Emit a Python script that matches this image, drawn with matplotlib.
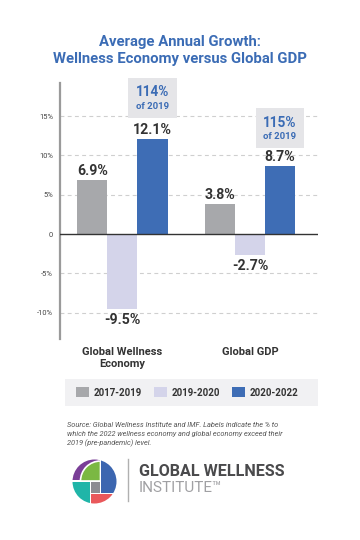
import matplotlib
matplotlib.use("Agg")
import matplotlib.pyplot as plt
import numpy as np
from matplotlib.patches import Rectangle, Circle, Wedge
from matplotlib.offsetbox import TextArea, VPacker, AnnotationBbox

plt.rcParams['font.family'] = ['Roboto', 'DejaVu Sans']

# ---- data ----
categories = ["Global Wellness\nEconomy", "Global GDP"]
periods = ["2017-2019", "2019-2020", "2020-2022"]
growth_2017_2019 = [6.9, 3.8]
growth_2019_2020 = [-9.5, -2.7]
growth_2020_2022 = [12.1, 8.7]
pct_of_2019 = ["114%", "115%"]
yticks = [-10, -5, 0, 5, 10, 15]
ytick_labels = ["-10%", "-5%", "0", "5%", "10%", "15%"]

colors = ["#a7a8ab", "#d4d4ea", "#3e6db5"]
title_color = "#3b6cb5"
text_dark = "#333333"

W, H = 360, 540
fig = plt.figure(figsize=(W / 100, H / 100), dpi=100)
fig.patch.set_facecolor("white")

# decoration axes in pixel coordinates
deco = fig.add_axes([0, 0, 1, 1], zorder=0)
deco.set_xlim(0, W)
deco.set_ylim(H, 0)
deco.axis("off")

# main chart axes
ax = fig.add_axes([60 / W, 1 - 339 / H, 258 / W, 256 / H], zorder=1)
ax.patch.set_alpha(0)

x = np.arange(len(categories))
bw = 30 / 127.5
series = [growth_2017_2019, growth_2019_2020, growth_2020_2022]
containers = []
for i, (vals, c, lab) in enumerate(zip(series, colors, periods)):
    bc = ax.bar(x + (i - 1) * bw, vals, width=bw, color=c, label=lab, zorder=3)
    containers.append(bc)
    for xi, v in zip(x + (i - 1) * bw, vals):
        off = 6.3 if v >= 0 else -7.9
        ax.annotate(f"{v}%", (xi, v), xytext=(0, off), textcoords="offset points",
                    ha="center", va="center", fontsize=10.2, fontweight="bold",
                    color=text_dark, zorder=5)

ax.set_xlim(-0.49, 1.533)
ax.set_ylim(-13.37, 19.23)
for y in yticks:
    if y == 0:
        ax.axhline(0, color="#333333", lw=1.0, zorder=4)
    else:
        ax.axhline(y, color="#cfcfcf", lw=0.8, ls=(0, (3.5, 3)), zorder=1)
ax.set_yticks(yticks)
ax.set_yticklabels(ytick_labels, fontsize=5.4, color="#444444")
ax.tick_params(axis="y", length=0, pad=5)
ax.set_xticks(x)
ax.set_xticklabels(categories, fontsize=8, fontweight="bold", color=text_dark,
                   linespacing=1.25)
ax.tick_params(axis="x", length=0, pad=6)
for s in ["top", "right", "bottom"]:
    ax.spines[s].set_visible(False)
ax.spines["left"].set_color("#9a9a9a")
ax.spines["left"].set_linewidth(1.6)

# "% of 2019" callouts above the 2020-2022 bars
for xi, v, p, yoff in zip(x + bw, growth_2020_2022, pct_of_2019, [29.5, 27.0]):
    t1 = TextArea(p, textprops=dict(fontsize=9.8, fontweight="bold", color=title_color))
    t2 = TextArea("of 2019", textprops=dict(fontsize=6.8, fontweight="bold", color=title_color))
    pack = VPacker(children=[t1, t2], align="center", pad=0, sep=1.5)
    ab = AnnotationBbox(pack, (xi, v), xybox=(0, yoff), boxcoords="offset points",
                        frameon=True, pad=0.55,
                        bboxprops=dict(facecolor="#e5e5e8", edgecolor="none", boxstyle="square,pad=0.55"))
    ab.set_zorder(6)
    ax.add_artist(ab)

# title
fig.text(0.5, 1 - 42 / H, "Average Annual Growth:", ha="center", va="center",
         fontsize=10.7, fontweight="bold", color=title_color)
fig.text(0.5, 1 - 59 / H, "Wellness Economy versus Global GDP", ha="center", va="center",
         fontsize=10.7, fontweight="bold", color=title_color)

# legend
deco.add_patch(Rectangle((65, 379), 253, 27, facecolor="#f1f1f3", edgecolor="none"))
fig.legend(handles=containers, labels=periods, loc="center",
           bbox_to_anchor=(187 / W, 1 - 392.5 / H), ncol=3, frameon=False,
           prop=dict(weight="bold", size=7), labelcolor=text_dark,
           handlelength=1.35, handleheight=1.15, handletextpad=0.45,
           columnspacing=1.25, borderaxespad=0)

# source note
src = ["Source: Global Wellness Institute and IMF. Labels indicate the % to",
       "which the 2022 wellness economy and global economy exceed their",
       "2019 (pre-pandemic) level."]
for i, line in enumerate(src):
    deco.text(67, 425 + 9 * i, line, ha="left", va="center", fontsize=5.3,
              style="italic", color="#555555")

# logo
cx, cy, r = 94.5, 481.5, 22
clip = Circle((cx, cy), r, transform=deco.transData, facecolor="none", edgecolor="none")
deco.add_patch(clip)
logo_parts = [
    Rectangle((70, 457), 29.5, 23, facecolor="#7a3e97", edgecolor="none"),
    Wedge((100.5, 481), 20, 180, 270, facecolor="#7bb843", edgecolor="white", lw=1.2),
    Rectangle((100.5, 457), 20, 36, facecolor="#3c66b0", edgecolor="none"),
    Rectangle((70, 481.5), 20, 26, facecolor="#20b5a8", edgecolor="none"),
    Rectangle((91, 481.5), 8.5, 11.5, facecolor="#8d8d92", edgecolor="none"),
    Rectangle((91, 494), 30, 14, facecolor="#e9585b", edgecolor="none"),
]
for p in logo_parts:
    deco.add_patch(p)
    p.set_clip_path(clip)
deco.plot([128, 128], [459, 501], color="#b0b0b0", lw=1.0)
deco.text(139, 472, "GLOBAL WELLNESS", ha="left", va="center", fontsize=11.6,
          fontweight="bold", color="#4a4a4c")
deco.text(139, 488.5, "INSTITUTE\u2122", ha="left", va="center", fontsize=11.0,
          color="#a0a0a3")

fig.savefig("out.png", dpi=100)
